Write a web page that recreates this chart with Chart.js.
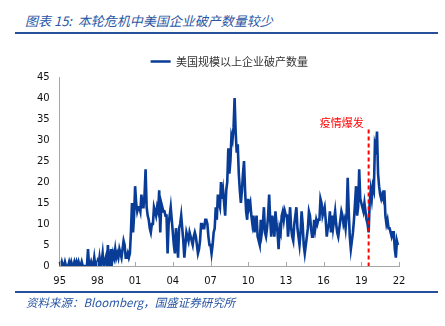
<!DOCTYPE html>
<html>
<head>
<meta charset="utf-8">
<script src="https://cdn.jsdelivr.net/npm/chart.js@4"></script>
<style>
  body { margin: 0; width: 445px; height: 326px; background: #fff; position: relative; overflow: hidden; }
  #zone { position: absolute; left: 0; top: 0; width: 445px; height: 326px; }
  #titre { position: absolute; left: 25px; top: 11px; font: italic 13px "Noto Sans CJK SC"; color: #2A56A4; white-space: nowrap; }
  .regle { position: absolute; left: 15px; width: 423px; height: 2px; background: #24509C; }
  #source { position: absolute; left: 26px; top: 294px; font: italic 11.5px "Noto Sans CJK SC"; color: #2A56A4; white-space: nowrap; }
</style>
</head>
<body>
<div id="titre">图表 15:&nbsp; 本轮危机中美国企业破产数量较少</div>
<div class="regle" style="top:32px"></div>
<div id="zone"><canvas id="graphique"></canvas></div>
<div class="regle" style="top:291px"></div>
<div id="source">资料来源：Bloomberg，国盛证券研究所</div>

<script>
// ================================
// DONNEES
// ================================

const SERIE_NOM = '美国规模以上企业破产数量';

// une ligne par année, de janvier 1995 à décembre 2021
const faillites = [
  1, 0, 1, 0, 0, 1, 0, 0, 0, 1, 0, 1,        // 1995
  0, 0, 1, 0, 1, 0, 1, 0, 0, 1, 0, 0,        // 1996
  0, 0, 0, 4, 0, 0, 1, 0, 0, 2, 0, 0,        // 1997
  1, 0, 2, 0, 1, 3, 0, 1, 2, 0, 5, 0,        // 1998
  0, 4, 1, 3, 2, 4, 2, 3, 2, 4, 3, 2,        // 1999
  4, 6, 5, 2, 2, 3, 2, 3, 8, 15, 8, 12,      // 2000
  19, 15, 13, 14, 14, 13, 17, 14, 14, 17, 23, 14, // 2001
  12, 11, 9, 8, 10, 10, 14, 13, 12, 14, 13, 18,   // 2002
  8, 15, 14, 13, 13, 12, 12, 3, 10, 12, 14, 11,   // 2003
  8, 5, 3, 9, 6, 2, 9, 10, 12, 9, 6, 2,      // 2004
  5, 8, 7, 6, 8, 7, 6, 5, 7, 8, 7, 5,        // 2005
  3, 4, 6, 10, 10, 9, 9, 11, 11, 10, 7, 5,   // 2006
  5, 3, 5, 8, 9, 14, 11, 17, 15, 14, 20, 16, // 2007
  18, 15, 12, 18, 20, 28, 22, 25, 31, 30, 33, 40, // 2008
  32, 27, 29, 22, 18, 15, 18, 22, 25, 18, 13, 11, // 2009
  16, 14, 15, 12, 10, 12, 8, 10, 12, 7, 6, 5,     // 2010
  11, 8, 10, 14, 8, 7, 9, 12, 17, 11, 7, 12,      // 2011
  10, 7, 13, 10, 8, 4, 9, 8, 12, 13, 11, 13,      // 2012
  12, 12, 7, 10, 14, 9, 7, 6, 10, 12, 14, 9,      // 2013
  7, 5, 8, 13, 10, 5, 3, 5, 7, 9, 13, 12,         // 2014
  9, 7, 7, 11, 9, 11, 10, 11, 11, 16, 15, 12,     // 2015
  13, 14, 11, 7, 9, 10, 13, 8, 12, 9, 11, 13,     // 2016
  10, 8, 7, 9, 11, 13, 12, 10, 11, 9, 12, 21,     // 2017
  13, 7, 4, 6, 8, 11, 15, 19, 12, 14, 23, 16,     // 2018
  15, 14, 13, 15, 13, 11, 10, 8, 15, 18, 16, 19,  // 2019
  18, 29, 28, 32, 22, 19, 17, 16, 17, 16, 18, 12, // 2020
  10, 11, 9, 9, 8, 7, 8, 8, 4, 2, 6, 5            // 2021
];

const ANNEE_DEBUT = 1995;
const ANNEE_FIN = 2022;        // l'axe s'arrête en janvier 2022
const PAS_ETIQUETTE = 36;      // une étiquette tous les 3 ans

const Y_MIN = 0;
const Y_MAX = 45;
const Y_PAS = 5;

// ligne verticale "épidémie"
const EPIDEMIE_INDEX = 295;
const EPIDEMIE_TEXTE = '疫情爆发';
const EPIDEMIE_HAUT = 32.5;    // hauteur du trait, en unités de l'axe y
const EPIDEMIE_TEXTE_Y = 34.2;

// ================================
// CATEGORIES (mois)
// ================================

const mois = [];
for (let a = ANNEE_DEBUT; a <= ANNEE_FIN; a++) {
  for (let m = 1; m <= 12; m++) {
    if (a === ANNEE_FIN && m > 1) break;
    mois.push(a + '-' + (m < 10 ? '0' + m : m));
  }
}

const BLEU = '#083C96';
const GRIS_AXE = '#A6A6A6';
const POLICE_CHIFFRES = 'DejaVu Sans';

// ================================
// PLUGINS
// ================================

// petites graduations vers l'intérieur sur l'axe x
const graduationsInterieures = {
  id: 'graduationsInterieures',
  afterDraw(chart) {
    const x = chart.scales.x;
    const ctx = chart.ctx;
    ctx.save();
    ctx.strokeStyle = GRIS_AXE;
    ctx.lineWidth = 1;
    for (let i = 0; i < mois.length; i += PAS_ETIQUETTE) {
      const px = Math.round(x.getPixelForValue(i)) + 0.5;
      ctx.beginPath();
      ctx.moveTo(px, x.top - 4);
      ctx.lineTo(px, x.top);
      ctx.stroke();
    }
    ctx.restore();
  }
};

// trait rouge pointillé + texte
const ligneEpidemie = {
  id: 'ligneEpidemie',
  afterDatasetsDraw(chart) {
    const x = chart.scales.x;
    const y = chart.scales.y;
    const ctx = chart.ctx;
    const px = x.getPixelForValue(EPIDEMIE_INDEX);
    ctx.save();
    ctx.strokeStyle = '#FF0000';
    ctx.lineWidth = 2;
    ctx.setLineDash([4, 3]);
    ctx.beginPath();
    ctx.moveTo(px, y.getPixelForValue(EPIDEMIE_HAUT));
    ctx.lineTo(px, y.getPixelForValue(Y_MIN));
    ctx.stroke();
    ctx.setLineDash([]);
    ctx.fillStyle = '#FF0000';
    ctx.font = '11px "Noto Sans CJK SC"';
    ctx.textAlign = 'right';
    ctx.textBaseline = 'middle';
    ctx.fillText(EPIDEMIE_TEXTE, px - 5, y.getPixelForValue(EPIDEMIE_TEXTE_Y));
    ctx.restore();
  }
};

// ================================
// GRAPHIQUE
// ================================

new Chart(document.getElementById('graphique'), {
  type: 'line',
  data: {
    labels: mois,
    datasets: [{
      label: SERIE_NOM,
      data: faillites,
      borderColor: BLEU,
      backgroundColor: BLEU,
      borderWidth: 2.6,
      pointRadius: 0,
      tension: 0,
      fill: false
    }]
  },
  options: {
    responsive: true,
    maintainAspectRatio: false,
    animation: false,
    layout: { padding: { left: 27, right: 46, top: 50, bottom: 30 } },
    scales: {
      x: {
        type: 'category',
        grid: { display: true, drawOnChartArea: false, drawTicks: false },
        border: { color: GRIS_AXE, width: 1 },
        ticks: {
          autoSkip: false,
          maxRotation: 0,
          padding: 9,
          color: '#111',
          font: { family: POLICE_CHIFFRES, size: 10 },
          callback: function(val, i) {
            return i % PAS_ETIQUETTE === 0 ? mois[i].slice(2, 4) : null;
          }
        }
      },
      y: {
        min: Y_MIN,
        max: Y_MAX,
        grid: { display: false, drawTicks: false },
        border: { color: GRIS_AXE, width: 1 },
        ticks: {
          stepSize: Y_PAS,
          padding: 10,
          color: '#111',
          font: { family: POLICE_CHIFFRES, size: 10 }
        }
      }
    },
    plugins: {
      legend: {
        display: true,
        position: 'top',
        fullSize: false,
        labels: {
          usePointStyle: true,
          pointStyle: 'line',
          pointStyleWidth: 20,
          color: '#333',
          padding: 6,
          font: { family: 'Noto Sans CJK SC', size: 11 }
        }
      },
      tooltip: { enabled: false }
    }
  },
  plugins: [graduationsInterieures, ligneEpidemie]
});
</script>
</body>
</html>
